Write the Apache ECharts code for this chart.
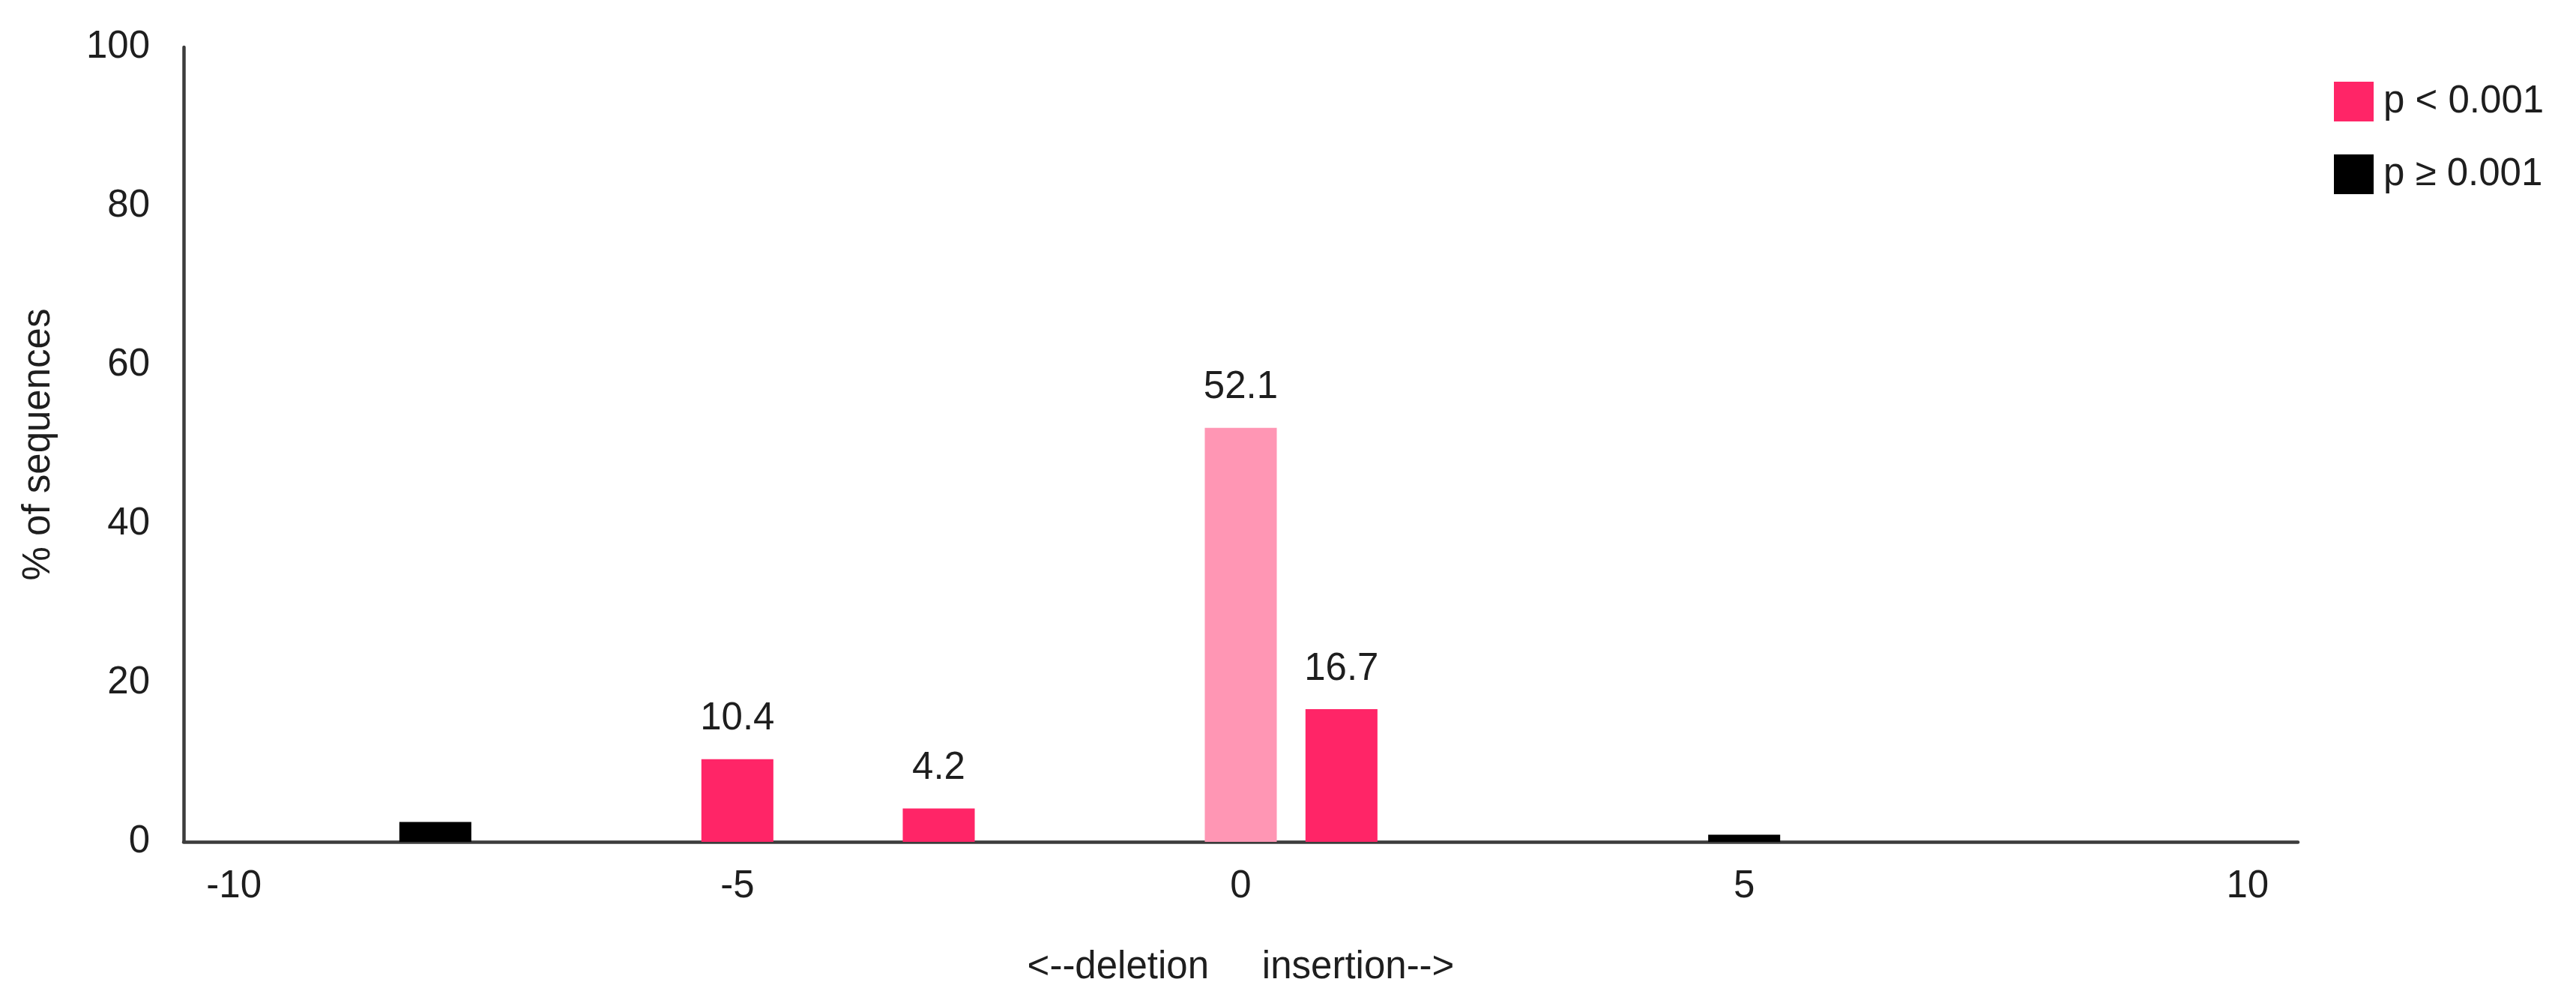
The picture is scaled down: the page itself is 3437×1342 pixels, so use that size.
<!DOCTYPE html>
<html>
<head>
<meta charset="utf-8">
<script src="https://cdn.jsdelivr.net/npm/echarts@6/dist/echarts.min.js"></script>
<style>
html,body{margin:0;padding:0;background:#fff;}
#chart{width:3437px;height:1342px;}
</style>
</head>
<body>
<div id="chart"></div>
<script>
var categories = ['-10','-9','-8','-7','-6','-5','-4','-3','-2','-1','0','1','2','3','4','5','6','7','8','9','10'];
var pLow = [null,null,null,null,null,10.4,null,4.2,null,null,52.1,16.7,null,null,null,null,null,null,null,null,null];
var pHigh = [null,null,2.5,null,null,null,null,null,null,null,null,null,null,null,null,0.9,null,null,null,null,null];
var yTicks = [0,20,40,60,80,100];
var seriesNames = ['p < 0.001','p \u2265 0.001'];
var lightCategory = '0';

var FONT = '"Liberation Sans", Arial, sans-serif';
var TXT = '#1e1e1e';
var AX = '#3c3c3c';

var chart = echarts.init(document.getElementById('chart'));
chart.setOption({
  animation: false,
  backgroundColor: '#ffffff',
  textStyle: { fontFamily: FONT, color: TXT },
  legend: {
    orient: 'vertical',
    left: 3109,
    top: 104,
    itemWidth: 53,
    itemHeight: 53,
    itemGap: 44,
    icon: 'rect',
    textStyle: { fontFamily: FONT, fontSize: 51, color: TXT, padding: [0,0,0,8] },
    data: seriesNames
  },
  grid: { left: 245, right: 371, top: 63, bottom: 219, containLabel: false },
  xAxis: {
    type: 'category',
    data: categories,
    boundaryGap: true,
    name: '<--deletion     insertion-->',
    nameLocation: 'middle',
    nameGap: 142,
    nameTextStyle: { fontFamily: FONT, fontSize: 51, color: TXT },
    axisLine: { show: true, lineStyle: { color: AX, width: 4.5 } },
    axisTick: { show: false },
    axisLabel: { interval: 4, margin: 34, fontFamily: FONT, fontSize: 51, color: TXT },
    splitLine: { show: false }
  },
  yAxis: {
    type: 'value',
    min: yTicks[0],
    max: yTicks[yTicks.length-1],
    interval: 20,
    name: '% of sequences',
    nameLocation: 'middle',
    nameRotate: 90,
    nameGap: 168,
    nameTextStyle: { fontFamily: FONT, fontSize: 51, color: TXT },
    axisLine: { show: true, lineStyle: { color: AX, width: 4.5 } },
    axisTick: { show: false },
    axisLabel: { margin: 45, fontFamily: FONT, fontSize: 51, color: TXT },
    splitLine: { show: false }
  },
  series: [
    {
      name: seriesNames[0],
      type: 'bar',
      stack: 'all',
      barWidth: '71.5%',
      itemStyle: { color: '#FF2567' },
      label: {
        show: true, position: 'top', distance: 28,
        fontFamily: FONT, fontSize: 51, color: TXT,
        formatter: function(p){ return p.value == null ? '' : p.value.toFixed(1); }
      },
      data: pLow.map(function(v, i){
        if (categories[i] === lightCategory && v != null) {
          return { value: v, itemStyle: { color: '#FF96B4' } };
        }
        return v;
      })
    },
    {
      name: seriesNames[1],
      type: 'bar',
      stack: 'all',
      barWidth: '71.5%',
      itemStyle: { color: '#000000' },
      label: { show: false },
      data: pHigh
    }
  ]
});
</script>
</body>
</html>
